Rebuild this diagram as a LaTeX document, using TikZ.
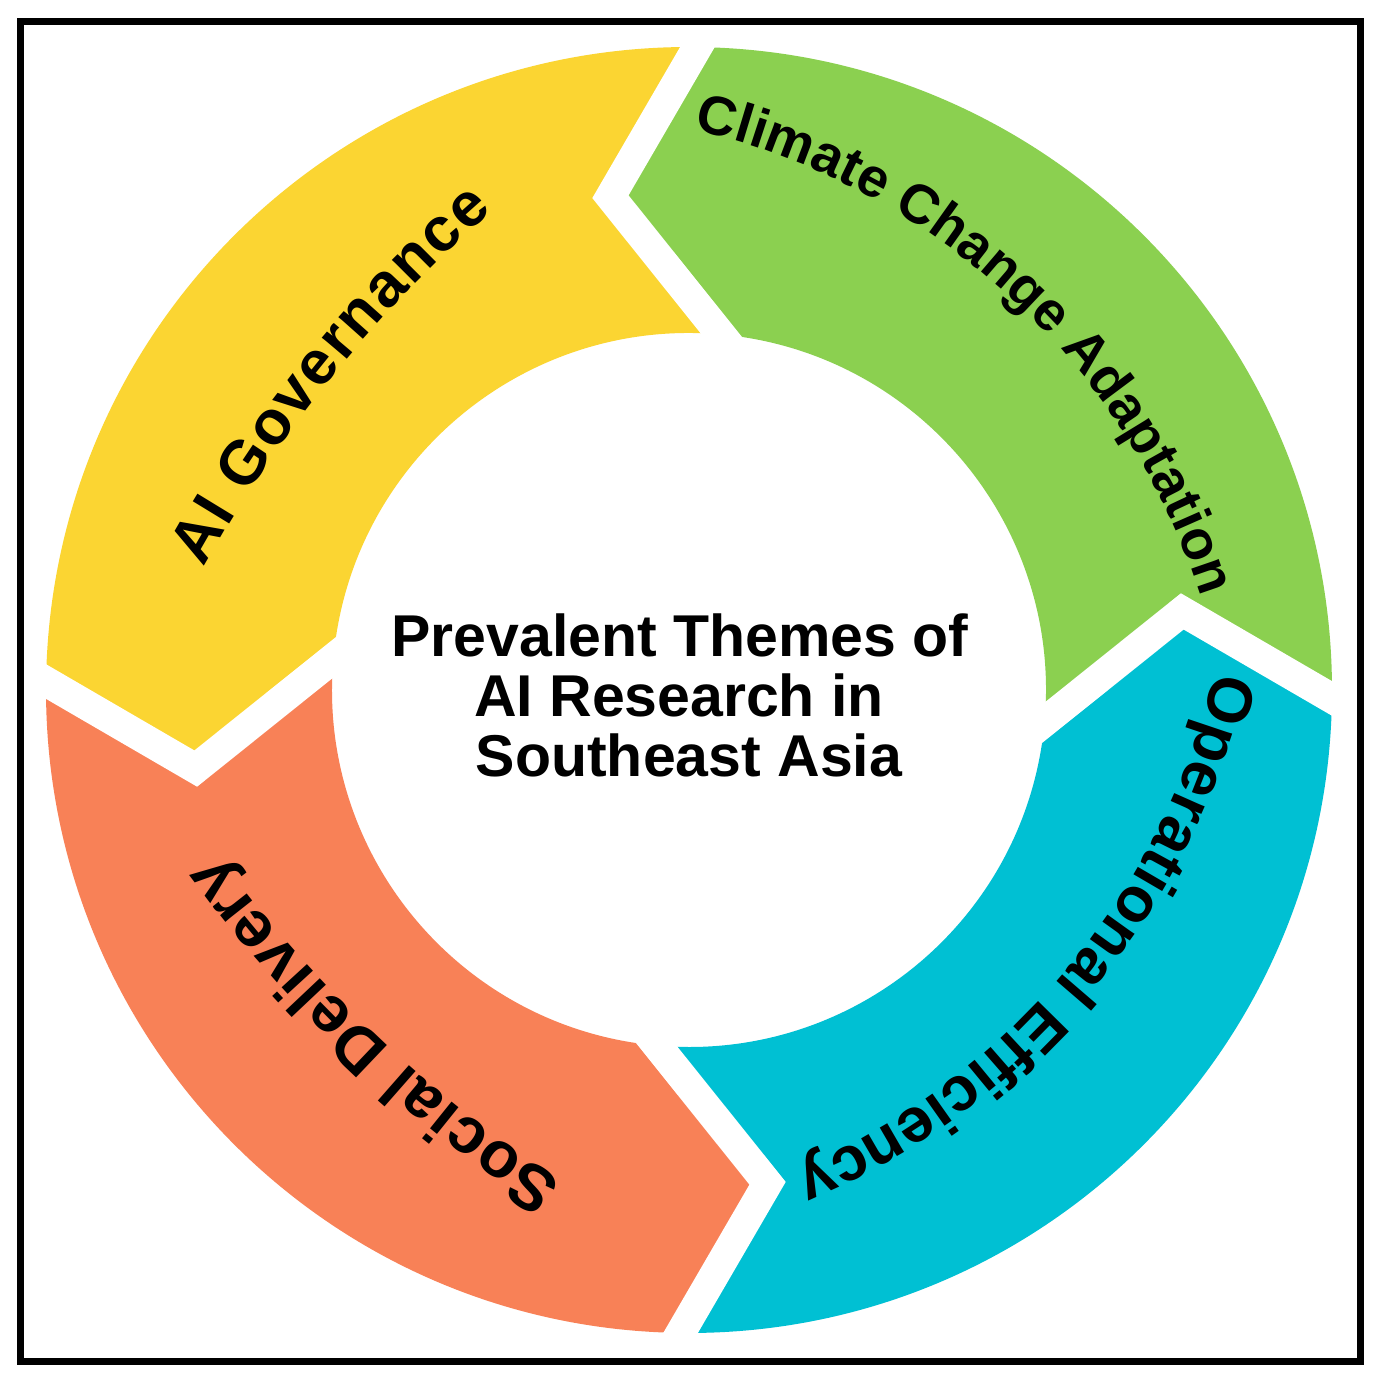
\documentclass[tikz,border=0pt]{standalone}
\usepackage{fontspec}
\setmainfont{Liberation Sans}
\usetikzlibrary{calc,decorations.text}
\definecolor{segyellow}{RGB}{251,213,50}
\definecolor{seggreen}{RGB}{139,208,80}
\definecolor{segorange}{RGB}{248,129,87}
\definecolor{segteal}{RGB}{0,192,211}
\newcommand\arcGov{\bfseries\fontsize{62pt}{62pt}\selectfont}
\newcommand\arcClim{\bfseries\fontsize{55pt}{55pt}\selectfont}
\newcommand\arcOper{\bfseries\fontsize{63pt}{63pt}\selectfont}
\newcommand\arcSoc{\bfseries\fontsize{65pt}{65pt}\selectfont}
\begin{document}
\begin{tikzpicture}[x=1pt,y=1pt,
  gapline/.style={draw=white,line width=30pt,line join=miter},
  centertext/.style={font=\bfseries\fontsize{59pt}{59pt}\selectfont,anchor=base,inner sep=0pt,text=black},
  arctext/.style={decorate,decoration={text along path,text align={fit to path},raise=#1}}
]
\useasboundingbox (0,0) rectangle (1379,1381);
\fill[white] (0,0) rectangle (1379,1381);
\begin{scope}[shift={(689,691)}]
  % green: boundary 0 -> 90
  \fill[seggreen] (-0.75:643) arc[start angle=-0.75,end angle=89.25,radius=643]
     -- (99.05:499.5) -- (84.9:357) arc[start angle=84.9,end angle=-5.1,radius=357]
     -- (9.05:499.5) -- cycle;
  % yellow: 90 -> 180
  \fill[segyellow] (89.25:643) arc[start angle=89.25,end angle=179.25,radius=643]
     -- (189.05:499.5) -- (174.9:357) arc[start angle=174.9,end angle=84.9,radius=357]
     -- (99.05:499.5) -- cycle;
  % orange: 180 -> 270
  \fill[segorange] (179.25:643) arc[start angle=179.25,end angle=269.25,radius=643]
     -- (279.05:499.5) -- (264.9:357) arc[start angle=264.9,end angle=174.9,radius=357]
     -- (189.05:499.5) -- cycle;
  % teal: 270 -> 360
  \fill[segteal] (269.25:643) arc[start angle=269.25,end angle=359.25,radius=643]
     -- (369.05:499.5) -- (354.9:357) arc[start angle=354.9,end angle=264.9,radius=357]
     -- (279.05:499.5) -- cycle;
  % white gaps
  \draw[gapline] ($(9.05:499.5)!1.25!(-0.75:643)$) -- (9.05:499.5) -- ($(9.05:499.5)!1.25!(-5.1:357)$);
  \draw[gapline] ($(99.05:499.5)!1.25!(89.25:643)$) -- (99.05:499.5) -- ($(99.05:499.5)!1.25!(84.9:357)$);
  \draw[gapline] ($(189.05:499.5)!1.25!(179.25:643)$) -- (189.05:499.5) -- ($(189.05:499.5)!1.25!(174.9:357)$);
  \draw[gapline] ($(279.05:499.5)!1.25!(269.25:643)$) -- (279.05:499.5) -- ($(279.05:499.5)!1.25!(264.9:357)$);
\end{scope}
% curved labels
\path[arctext=-17pt,decoration={text={|\arcGov|AI Governance}}]
  ($(1361,172)+(151.0:1340)$) arc[start angle=151.0,end angle=131.0,radius=1340];
\path[arctext=-15pt,decoration={text={|\arcClim|Climate Change Adaptation}}]
  ($(537,572)+(77.0:712)$) arc[start angle=77.0,end angle=17.7,radius=712];
\path[arctext=-18pt,decoration={text={|\arcOper|Operational Efficiency}}]
  ($(514,873)+(-13.2:738)$) arc[start angle=-13.2,end angle=-67.0,radius=738];
\path[arctext=-18pt,decoration={text={|\arcSoc|Social Delivery}}]
  ($(1280,1301)+(236.9:1333)$) arc[start angle=236.9,end angle=216.1,radius=1333];
% centre title
\node[centertext] (title1) at (680,724) {Prevalent Themes of};
\node[centertext] (title2) at (679,664) {AI Research in};
\node[centertext] (title3) at (689,604) {Southeast Asia};
% frame
\draw[line width=7pt] (20.3,19.7) rectangle (1360,1359.5);
\end{tikzpicture}
\end{document}
